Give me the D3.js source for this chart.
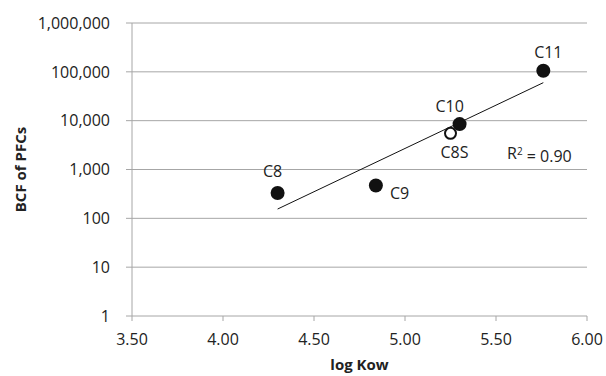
<!DOCTYPE html>
<html>
<head>
<meta charset="utf-8">
<script src="https://cdn.jsdelivr.net/npm/d3@7"></script>
<style>
  body { margin: 0; background: #fff; }
  svg { display: block; font-family: "Open Sans", sans-serif; }
</style>
</head>
<body>
<div id="chart"></div>
<script>
// data
const names   = ["C8", "C9", "C10", "C8S", "C11"];
const logKow  = [4.30, 4.84, 5.30, 5.25, 5.76];
const bcf     = [330, 470, 8500, 5500, 105000];
const hollow  = [false, false, false, true, false];

// Excel trendline end points
const trendX = [4.30, 5.76];
const trendY = [155, 60000];

const xTicks = [3.5, 4.0, 4.5, 5.0, 5.5, 6.0];
const yTicks = [1, 10, 100, 1000, 10000, 100000, 1000000];
const r2Label = "0.90";

const width = 606, height = 376;
const m = { left: 132, right: 19, top: 23, bottom: 60 };

const svg = d3.select("#chart").append("svg")
    .attr("width", width)
    .attr("height", height);

const x = d3.scaleLinear().domain([3.5, 6.0]).range([m.left, width - m.right]);
const y = d3.scaleLog().domain([1, 1000000]).range([height - m.bottom, m.top]);

const gridColor = "#a6a6a6";

// horizontal gridlines (extend a little left of the axis like Excel tick marks)
svg.append("g")
    .selectAll("line")
    .data(yTicks)
    .join("line")
    .attr("x1", m.left - 6)
    .attr("x2", width - m.right)
    .attr("y1", d => y(d))
    .attr("y2", d => y(d))
    .attr("stroke", gridColor)
    .attr("stroke-width", 1);

// y axis line
svg.append("line")
    .attr("x1", m.left).attr("x2", m.left)
    .attr("y1", y(1000000)).attr("y2", y(1))
    .attr("stroke", gridColor);

// x tick marks
svg.append("g")
    .selectAll("line")
    .data(xTicks)
    .join("line")
    .attr("x1", d => x(d)).attr("x2", d => x(d))
    .attr("y1", y(1)).attr("y2", y(1) + 5)
    .attr("stroke", gridColor);

// tick labels
const fmtY = d3.format(",");
svg.append("g")
    .selectAll("text")
    .data(yTicks)
    .join("text")
    .attr("x", m.left - 22)
    .attr("y", d => y(d))
    .attr("dy", "0.36em")
    .attr("text-anchor", "end")
    .style("font-size", "16px")
    .style("fill", "#222")
    .text(d => fmtY(d));

svg.append("g")
    .selectAll("text")
    .data(xTicks)
    .join("text")
    .attr("x", d => x(d))
    .attr("y", y(1) + 29)
    .attr("text-anchor", "middle")
    .style("font-size", "16px")
    .style("fill", "#222")
    .text(d => d.toFixed(2));

// axis titles
svg.append("text")
    .attr("x", x(4.75))
    .attr("y", height - 6)
    .attr("text-anchor", "middle")
    .style("font-size", "15px")
    .style("font-weight", "bold")
    .style("fill", "#222")
    .text("log Kow");

svg.append("text")
    .attr("transform", `translate(26, ${(m.top + height - m.bottom) / 2}) rotate(-90)`)
    .attr("text-anchor", "middle")
    .style("font-size", "15px")
    .style("font-weight", "bold")
    .style("fill", "#222")
    .text("BCF of PFCs");

// trend line
svg.append("line")
    .attr("x1", x(trendX[0])).attr("y1", y(trendY[0]))
    .attr("x2", x(trendX[1])).attr("y2", y(trendY[1]))
    .attr("stroke", "#111")
    .attr("stroke-width", 1);

// points
const pts = names.map((n, i) => ({ name: n, x: logKow[i], y: bcf[i], hollow: hollow[i] }));

svg.append("g")
    .selectAll("circle")
    .data(pts)
    .join("circle")
    .attr("cx", d => x(d.x))
    .attr("cy", d => y(d.y))
    .attr("r", d => d.hollow ? 5.5 : 7)
    .attr("fill", d => d.hollow ? "#fff" : "#111")
    .attr("stroke", "#111")
    .attr("stroke-width", d => d.hollow ? 2 : 0);

// point labels, offsets match the original placement
const labelOffset = {
    "C8":  [-5, -16],
    "C9":  [14, 13],
    "C10": [-10, -12],
    "C8S": [4, 25],
    "C11": [5, -13]
};
svg.append("g")
    .selectAll("text")
    .data(pts)
    .join("text")
    .attr("x", d => x(d.x) + labelOffset[d.name][0])
    .attr("y", d => y(d.y) + labelOffset[d.name][1])
    .attr("text-anchor", d => d.name === "C9" ? "start" : "middle")
    .style("font-size", "16px")
    .style("fill", "#222")
    .text(d => d.name);

// R squared
const r2 = svg.append("text")
    .attr("x", 507)
    .attr("y", 159)
    .style("font-size", "16px")
    .style("fill", "#222");
r2.append("tspan").text("R");
r2.append("tspan").attr("dy", "-0.45em").style("font-size", "10px").text("2");
r2.append("tspan").attr("dy", "0.45em").text(" = " + r2Label);
</script>
</body>
</html>
